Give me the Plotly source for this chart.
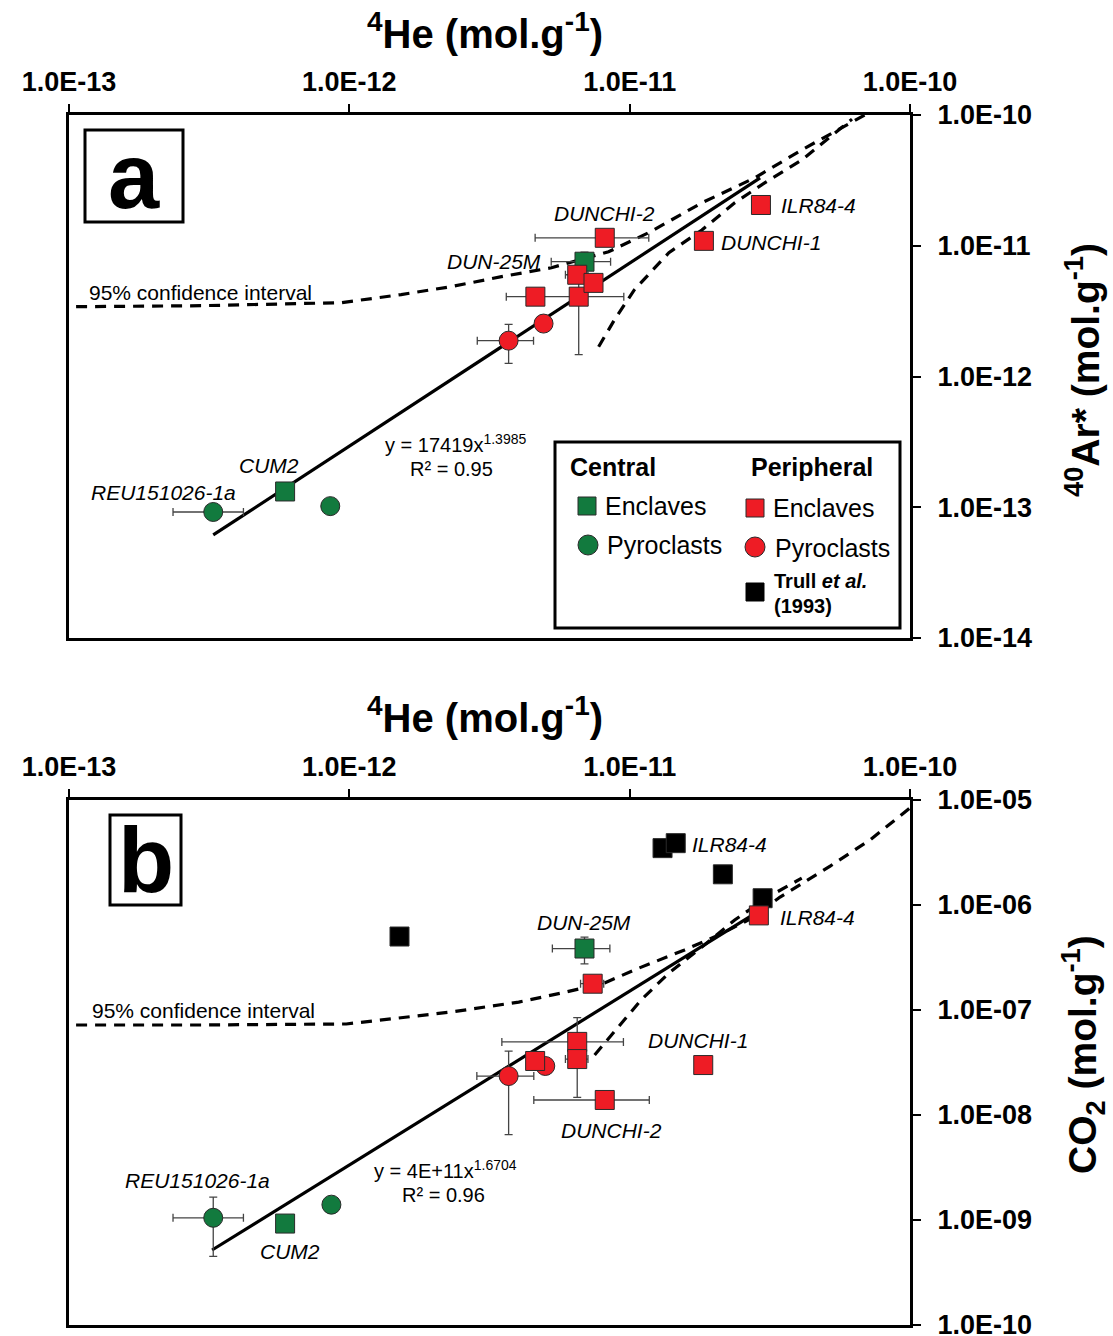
import plotly.graph_objects as go

# ---------------- Panel a data (4He vs 40Ar*) ----------------
a_cen_enc_x = [5.9e-13, 6.9e-12]
a_cen_enc_y = [1.32e-13, 7.55e-12]
a_cen_enc_xe = [0, 1.65e-12]
a_cen_enc_ye = [0, 1.4e-12]

a_cen_pyr_x = [3.27e-13, 8.55e-13]
a_cen_pyr_y = [9.2e-14, 1.02e-13]
a_cen_pyr_xe = [0.92e-13, 0]
a_cen_pyr_ye = [0, 0]

a_per_enc_x = [4.61e-12, 6.58e-12, 6.5e-12, 7.43e-12, 8.15e-12, 1.84e-11, 2.94e-11]
a_per_enc_y = [4.08e-12, 4.08e-12, 6.0e-12, 5.2e-12, 1.15e-11, 1.09e-11, 2.05e-11]
a_per_enc_xe = [0, 2.95e-12, 0.6e-12, 0, 3.55e-12, 0, 0]
a_per_enc_ye = [0, 2.61e-12, 0, 0, 0, 0, 0]

a_per_pyr_x = [3.7e-12, 4.93e-12]
a_per_pyr_y = [1.88e-12, 2.54e-12]
a_per_pyr_xe = [0.84e-12, 0]
a_per_pyr_ye = [0.62e-12, 0]

a_fit_x = [3.27e-13, 2.92e-11]
a_fit_y = [6.14e-14, 3.3e-11]

a_ci_up_x = [1.06e-13, 2.96e-13, 9.36e-13, 1.53e-12, 2.31e-12, 3.49e-12, 5.26e-12,
             8.41e-12, 1.17e-11, 1.81e-11, 2.79e-11, 4.11e-11, 6.9e-11]
a_ci_up_y = [3.42e-12, 3.48e-12, 3.67e-12, 4.23e-12, 4.87e-12, 5.8e-12, 6.79e-12,
             9.0e-12, 1.26e-11, 2.13e-11, 3.3e-11, 5.41e-11, 1.0e-10]
a_ci_lo_x = [7.75e-12, 8.83e-12, 1.04e-11, 1.38e-11, 1.81e-11, 2.37e-11, 3.03e-11, 4.11e-11, 6.21e-11]
a_ci_lo_y = [1.69e-12, 2.72e-12, 4.61e-12, 8.85e-12, 1.32e-11, 2.13e-11, 3.03e-11, 4.53e-11, 9.3e-11]

# ---------------- Panel b data (4He vs CO2) ----------------
b_cen_enc_x = [5.9e-13, 6.9e-12]
b_cen_enc_y = [9.25e-10, 3.85e-7]
b_cen_enc_xe = [0, 1.6e-12]
b_cen_enc_ye = [0, 1.1e-7]

b_cen_pyr_x = [3.27e-13, 8.63e-13]
b_cen_pyr_y = [1.05e-9, 1.4e-9]
b_cen_pyr_xe = [0.92e-13, 0]
b_cen_pyr_ye = [0.6e-9, 0]

b_per_enc_x = [4.6e-12, 6.5e-12, 6.5e-12, 8.15e-12, 1.83e-11, 7.38e-12, 2.89e-11]
b_per_enc_y = [3.27e-8, 4.97e-8, 3.41e-8, 1.39e-8, 2.99e-8, 1.78e-7, 7.96e-7]
b_per_enc_xe = [0, 3.0e-12, 0.6e-12, 3.6e-12, 0, 0.7e-12, 0]
b_per_enc_ye = [0, 3.5e-8, 0, 0, 0, 0, 0]

b_per_pyr_x = [3.7e-12, 5.0e-12]
b_per_pyr_y = [2.35e-8, 2.93e-8]
b_per_pyr_xe = [0.85e-12, 0]
b_per_pyr_ye = [1.7e-8, 0]

b_trull_x = [1.51e-12, 1.31e-11, 1.46e-11, 2.15e-11, 2.98e-11]
b_trull_y = [5.01e-7, 3.48e-6, 3.88e-6, 1.96e-6, 1.16e-6]

b_fit_x = [3.24e-13, 2.85e-11]
b_fit_y = [5.18e-10, 8.57e-7]

b_ci_up_x = [1.06e-13, 2.96e-13, 9.75e-13, 1.53e-12, 2.31e-12, 4.02e-12, 5.71e-12, 8.14e-12,
             1.08e-11, 1.57e-11, 2.08e-11, 2.73e-11, 3.44e-11, 5.19e-11, 7.2e-11, 1.0e-10]
b_ci_up_y = [7.2e-8, 7.2e-8, 7.36e-8, 8.4e-8, 9.57e-8, 1.19e-7, 1.45e-7, 1.81e-7,
             2.51e-7, 3.73e-7, 5.18e-7, 7.5e-7, 1.19e-6, 2.35e-6, 4.16e-6, 8.4e-6]
b_ci_lo_x = [7.5e-12, 9.12e-12, 1.1e-11, 1.38e-11, 1.81e-11, 2.37e-11, 3.13e-11, 4.11e-11]
b_ci_lo_y = [3.73e-8, 6.89e-8, 1.25e-7, 2.25e-7, 3.98e-7, 7.2e-7, 1.2e-6, 1.8e-6]

x_tickvals = [1e-13, 1e-12, 1e-11, 1e-10]
x_ticktext = ["1.0E-13", "1.0E-12", "1.0E-11", "1.0E-10"]
ya_tickvals = [1e-14, 1e-13, 1e-12, 1e-11, 1e-10]
ya_ticktext = ["1.0E-14", "1.0E-13", "1.0E-12", "1.0E-11", "1.0E-10"]
yb_tickvals = [1e-10, 1e-9, 1e-8, 1e-7, 1e-6, 1e-5]
yb_ticktext = ["1.0E-10", "1.0E-09", "1.0E-08", "1.0E-07", "1.0E-06", "1.0E-05"]

GREEN = "#127a3e"
RED = "#ee1c25"
BLACK = "#000000"
FONT = "Liberation Sans"

W, H = 1113, 1336
PL, PR, PT, PB = 69, 910, 115, 1325       # plot area in page pixels
L, T = PL, PT
PW, PH = PR - PL, PB - PT
R, B = W - L - PW, H - T - PH


def px(X):
    return (X - PL) / PW


def py(Y):
    return (PB - Y) / PH


fig = go.Figure()


def add_line(xs, ys, xa, ya, dash=None):
    fig.add_trace(go.Scatter(x=xs, y=ys, mode="lines", xaxis=xa, yaxis=ya,
                             line=dict(color="black", width=3.2, dash=dash),
                             showlegend=False, hoverinfo="skip"))


def add_pts(xs, ys, xe, ye, color, symbol, xa, ya):
    fig.add_trace(go.Scatter(
        x=xs, y=ys, mode="markers", xaxis=xa, yaxis=ya, showlegend=False,
        marker=dict(color=color, symbol=symbol, size=19,
                    line=dict(color="#2a2a2a", width=1)),
        error_x=dict(type="data", array=xe, symmetric=True, color="#444444",
                     thickness=1.3, width=4),
        error_y=dict(type="data", array=ye, symmetric=True, color="#444444",
                     thickness=1.3, width=4),
    ))


DASH = "11px,8px"
# panel a lines
add_line(a_ci_up_x, a_ci_up_y, "x", "y", DASH)
add_line(a_ci_lo_x, a_ci_lo_y, "x", "y", DASH)
add_line(a_fit_x, a_fit_y, "x", "y")
# panel b lines
add_line(b_ci_up_x, b_ci_up_y, "x2", "y2", DASH)
add_line(b_ci_lo_x, b_ci_lo_y, "x2", "y2", DASH)
add_line(b_fit_x, b_fit_y, "x2", "y2")

# panel a points
add_pts(a_cen_pyr_x, a_cen_pyr_y, a_cen_pyr_xe, a_cen_pyr_ye, GREEN, "circle", "x", "y")
add_pts(a_cen_enc_x, a_cen_enc_y, a_cen_enc_xe, a_cen_enc_ye, GREEN, "square", "x", "y")
add_pts(a_per_pyr_x, a_per_pyr_y, a_per_pyr_xe, a_per_pyr_ye, RED, "circle", "x", "y")
add_pts(a_per_enc_x, a_per_enc_y, a_per_enc_xe, a_per_enc_ye, RED, "square", "x", "y")

# panel b points
add_pts(b_trull_x, b_trull_y, [0] * len(b_trull_x), [0] * len(b_trull_x), BLACK, "square", "x2", "y2")
add_pts(b_cen_pyr_x, b_cen_pyr_y, b_cen_pyr_xe, b_cen_pyr_ye, GREEN, "circle", "x2", "y2")
add_pts(b_cen_enc_x, b_cen_enc_y, b_cen_enc_xe, b_cen_enc_ye, GREEN, "square", "x2", "y2")
add_pts(b_per_pyr_x, b_per_pyr_y, b_per_pyr_xe, b_per_pyr_ye, RED, "circle", "x2", "y2")
add_pts(b_per_enc_x, b_per_enc_y, b_per_enc_xe, b_per_enc_ye, RED, "square", "x2", "y2")

ax_common = dict(type="log", showgrid=False, zeroline=False, showline=True,
                 linecolor="black", linewidth=3, mirror=True, ticks="outside",
                 ticklen=8, tickwidth=2, tickcolor="black", automargin=False,
                 ticklabeloverflow="allow",
                 tickfont=dict(family=FONT, size=27, color="black", weight="bold"))

dom_a = [py(638), 1.0]
dom_b = [0.0, py(800)]

fig.update_layout(
    width=W, height=H,
    margin=dict(l=L, r=R, t=T, b=B, autoexpand=False),
    paper_bgcolor="white", plot_bgcolor="white",
    xaxis=dict(ax_common, range=[-13, -10], side="top", anchor="y",
               tickvals=x_tickvals, ticktext=x_ticktext, ticklabelstandoff=2),
    yaxis=dict(ax_common, range=[-14, -10], side="right", anchor="x", domain=dom_a,
               tickvals=ya_tickvals, ticktext=ya_ticktext, ticklabelstandoff=11),
    xaxis2=dict(ax_common, range=[-13, -10], side="top", anchor="y2",
                tickvals=x_tickvals, ticktext=x_ticktext, ticklabelstandoff=2),
    yaxis2=dict(ax_common, range=[-10, -5], side="right", anchor="x2", domain=dom_b,
                tickvals=yb_tickvals, ticktext=yb_ticktext, ticklabelstandoff=11),
    showlegend=False,
)

ann = []


def txt(X, Y, text, size=21, xanchor="center", yanchor="middle", angle=0, color="black"):
    ann.append(dict(x=px(X), y=py(Y), xref="paper", yref="paper", text=text,
                    showarrow=False, xanchor=xanchor, yanchor=yanchor, textangle=angle,
                    font=dict(family=FONT, size=size, color=color)))


# axis titles
txt(485, 31, "<b><sup>4</sup>He (mol.g<sup>-1</sup>)</b>", size=40)
txt(485, 715, "<b><sup>4</sup>He (mol.g<sup>-1</sup>)</b>", size=40)
txt(1083, 370, "<b><sup>40</sup>Ar* (mol.g<sup>-1</sup>)</b>", size=39, angle=-90)
txt(1083, 1055, "<b>CO<sub>2</sub> (mol.g<sup>-1</sup>)</b>", size=39, angle=-90)

# panel letters
txt(134, 176, "<b>a</b>", size=92)
txt(146, 860, "<b>b</b>", size=92)

# panel a labels
txt(604, 213, "<i>DUNCHI-2</i>")
txt(543, 261, "<i>DUN-25M</i>", xanchor="right")
txt(779, 206, "<i>ILR84-4</i>", xanchor="left")
txt(719, 242, "<i>DUNCHI-1</i>", xanchor="left")
txt(269, 465, "<i>CUM2</i>")
txt(163, 492, "<i>REU151026-1a</i>")
txt(200, 292, "95% confidence interval")
txt(455, 443, "y = 17419x<sup>1.3985</sup>", size=20)
txt(451, 469, "R² = 0.95", size=20)

# panel b labels
txt(690, 844, "<i>ILR84-4</i>", xanchor="left")
txt(778, 917, "<i>ILR84-4</i>", xanchor="left")
txt(584, 922, "<i>DUN-25M</i>")
txt(698, 1040, "<i>DUNCHI-1</i>")
txt(611, 1130, "<i>DUNCHI-2</i>")
txt(197, 1180, "<i>REU151026-1a</i>")
txt(290, 1251, "<i>CUM2</i>")
txt(203, 1010, "95% confidence interval")
txt(445, 1169, "y = 4E+11x<sup>1.6704</sup>", size=20)
txt(443, 1195, "R² = 0.96", size=20)

# legend texts
txt(568, 467, "<b>Central</b>", size=25, xanchor="left")
txt(749, 467, "<b>Peripheral</b>", size=25, xanchor="left")
txt(603, 506, "Enclaves", size=25, xanchor="left")
txt(605, 545, "Pyroclasts", size=25, xanchor="left")
txt(771, 508, "Enclaves", size=25, xanchor="left")
txt(773, 548, "Pyroclasts", size=25, xanchor="left")
txt(772, 581, "<b>Trull <i>et al.</i></b>", size=20, xanchor="left")
txt(772, 606, "<b>(1993)</b>", size=20, xanchor="left")

fig.update_layout(annotations=ann)

shapes = []


def rect(X0, Y0, X1, Y1, lw=3, fill="white", lc="black"):
    shapes.append(dict(type="rect", xref="paper", yref="paper", x0=px(X0), x1=px(X1),
                       y0=py(Y1), y1=py(Y0), line=dict(color=lc, width=lw), fillcolor=fill,
                       layer="above"))


def circ(X, Y, r, fill):
    shapes.append(dict(type="circle", xref="paper", yref="paper", x0=px(X - r), x1=px(X + r),
                       y0=py(Y + r), y1=py(Y - r), line=dict(color="#2a2a2a", width=1),
                       fillcolor=fill, layer="above"))


# panel letter boxes
rect(85, 130, 183, 222)
rect(110, 815, 181, 905)
# legend box
rect(555, 442, 900, 628)
# legend symbols
rect(578, 497, 596, 515, lw=1, fill=GREEN, lc="#2a2a2a")
circ(588, 545, 10, GREEN)
rect(746, 499, 764, 517, lw=1, fill=RED, lc="#2a2a2a")
circ(755, 547, 10, RED)
rect(746, 583, 764, 601, lw=1, fill=BLACK, lc="#000000")

fig.update_layout(shapes=shapes)

fig.write_html("out.html", config={"displayModeBar": False},
               post_script="document.body.style.margin='0px';document.body.style.padding='0px';"
                           "document.documentElement.style.overflow='hidden';")
